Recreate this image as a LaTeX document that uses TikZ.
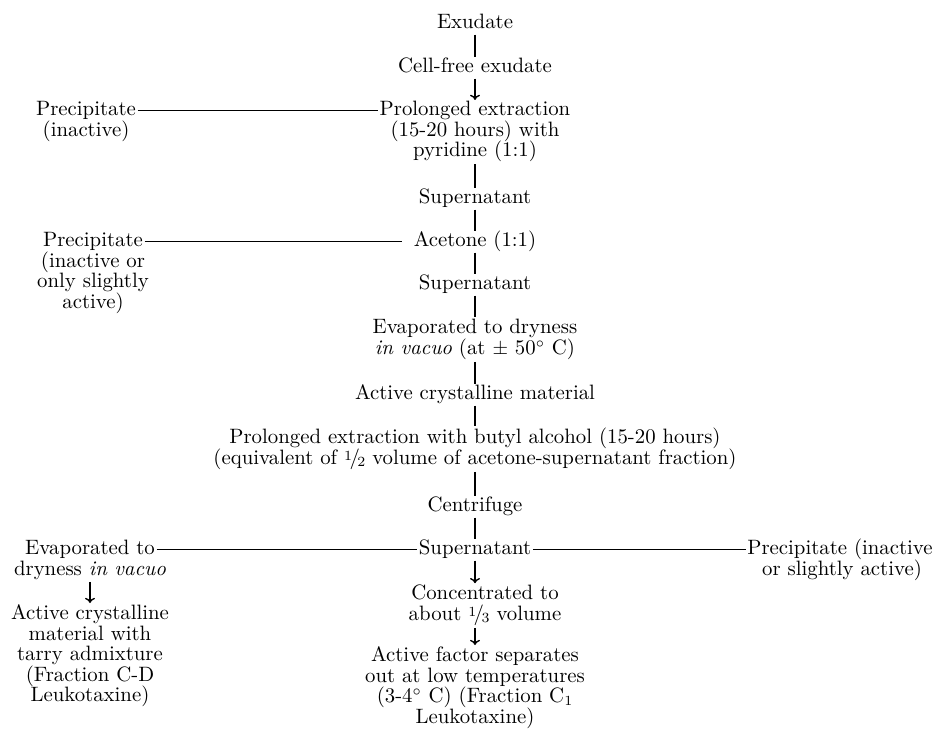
\documentclass[tikz,border=0pt]{standalone}
\usepackage{tikz}
\usetikzlibrary{positioning,arrows.meta}

\newcommand\flowfont{\fontsize{10.4}{10.25}\selectfont\lineskiplimit=-10pt}
\newcommand\vfrac[2]{\raisebox{.45ex}{\scriptsize#1}\kern-.12em/\kern-.12em\raisebox{-.25ex}{\scriptsize#2}}

\tikzset{
  lbl/.style={font=\flowfont, anchor=base, inner xsep=0.5pt, inner ysep=0.7pt,
    text height=7pt, text depth=1.8pt},
  % multi-line blocks sit on the baseline of their last line
  blk/.style={font=\flowfont, anchor=base, align=center, inner xsep=1.5pt, inner ysep=0.7pt},
}

\begin{document}
\begin{tikzpicture}[x=0.5pt,y=-0.5pt,line width=0.7pt,>={To[length=2.6pt,width=5pt]}]
\useasboundingbox (0,0) rectangle (939,731);
% main column
\node[lbl] (exu)   at (475,29)  {Exudate};
\node[lbl] (cell)  at (475,73)  {Cell-free exudate};
\node[lbl] (ext1)  at (475,116) {Prolonged extraction};
\node[blk] (ext1x) at (475,157) {(15-20 hours) with\\pyridine (1:1)};
\node[lbl] (sup1)  at (475,204) {Supernatant};
\node[lbl] (acet)  at (475,247) {Acetone (1:1)};
\node[lbl] (sup2)  at (475,290) {Supernatant};
\node[blk] (evap)  at (475,354.5) {Evaporated to dryness\\\textit{in vacuo} (at $\pm$ 50$^\circ$ C)};
\node[lbl] (act)   at (475,400) {Active crystalline material};
\node[blk] (but)   at (475,464.5) {Prolonged extraction with butyl alcohol (15-20 hours)\\(equivalent of \vfrac12 volume of acetone-supernatant fraction)};
\node[lbl] (cent)  at (475,512) {Centrifuge};
\node[lbl] (sup3)  at (475,555) {Supernatant};
\node[blk] (conc)  at (485,620.5) {Concentrated to\\about \vfrac13 volume};
\node[blk] (fac)   at (475,723.5) {Active factor separates\\out at low temperatures\\(3-4$^\circ$ C) (Fraction C$_1$\\Leukotaxine)};
% side branches
\node[lbl] (pre1)  at (86,116)  {Precipitate};
\node[blk] (pre1x) at (86,136.5) {(inactive)};
\node[lbl] (pre2)  at (93,247)  {Precipitate};
\node[blk] (pre2x) at (93,308.5) {(inactive or\\only slightly\\active)};
\node[lbl] (evp3)  at (90,555)  {Evaporated to};
\node[blk] (evp3x) at (90,575.5) {dryness \textit{in vacuo}};
\node[blk] (crys)  at (90,702)  {Active crystalline\\material with\\tarry admixture\\(Fraction C-D\\Leukotaxine)};
\node[lbl] (prc3)  at (840,555) {Precipitate (inactive};
\node[blk] (prc3x) at (842,575.5) {or slightly active)};

\draw (exu) -- (cell);
\draw[->] (cell) -- (ext1);
\draw (ext1x) -- (sup1);
\draw (sup1) -- (acet);
\draw (acet) -- (sup2);
\draw (sup2) -- (evap);
\draw (evap) -- (act);
\draw (act) -- (but);
\draw (but) -- (cent);
\draw (cent) -- (sup3);
\draw[->] (sup3) -- (sup3 |- conc.north);
\draw[->] (conc.south -| sup3) -- (fac);
\draw[->] (evp3x) -- (crys);
% horizontal branches
\draw (pre1) -- (ext1);
\draw[shorten >=5pt] (pre2) -- (acet);
\draw (evp3) -- (sup3);
\draw (sup3) -- (prc3);
\end{tikzpicture}
\end{document}
